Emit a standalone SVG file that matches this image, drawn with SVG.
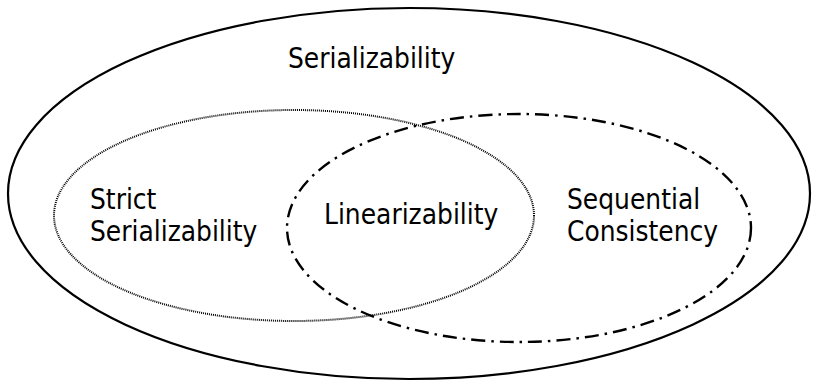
<svg xmlns="http://www.w3.org/2000/svg" width="817" height="382" viewBox="0 0 817 382">
<style>
text{font-family:"DejaVu Sans",sans-serif;font-size:25px;fill:#000}
.e{fill:none;stroke:#000}
</style>
<rect width="817" height="382" fill="#fff"/>
<g id="serializability">
<ellipse class="e" cx="409" cy="193.5" rx="401" ry="185.5" stroke-width="2.2"/>
<text transform="translate(288,68) scale(1,1.1)">Serializability</text>
</g>
<g id="strict-serializability">
<ellipse class="e" cx="294" cy="215.5" rx="240" ry="105.5" stroke-width="2" stroke-dasharray="1,1"/>
<text transform="translate(90,209) scale(1,1.1)">Strict</text>
<text transform="translate(90,241) scale(1,1.1)">Serializability</text>
</g>
<g id="sequential-consistency">
<ellipse class="e" cx="519" cy="228" rx="232" ry="114" stroke-width="2.4" stroke-dasharray="14,6,2.5,6"/>
<text transform="translate(567,209) scale(1,1.1)">Sequential</text>
<text transform="translate(567,241) scale(1,1.1)">Consistency</text>
</g>
<g id="linearizability">
<text transform="translate(324,224) scale(1,1.1)">Linearizability</text>
</g>
<g id="connectors"/>
</svg>
